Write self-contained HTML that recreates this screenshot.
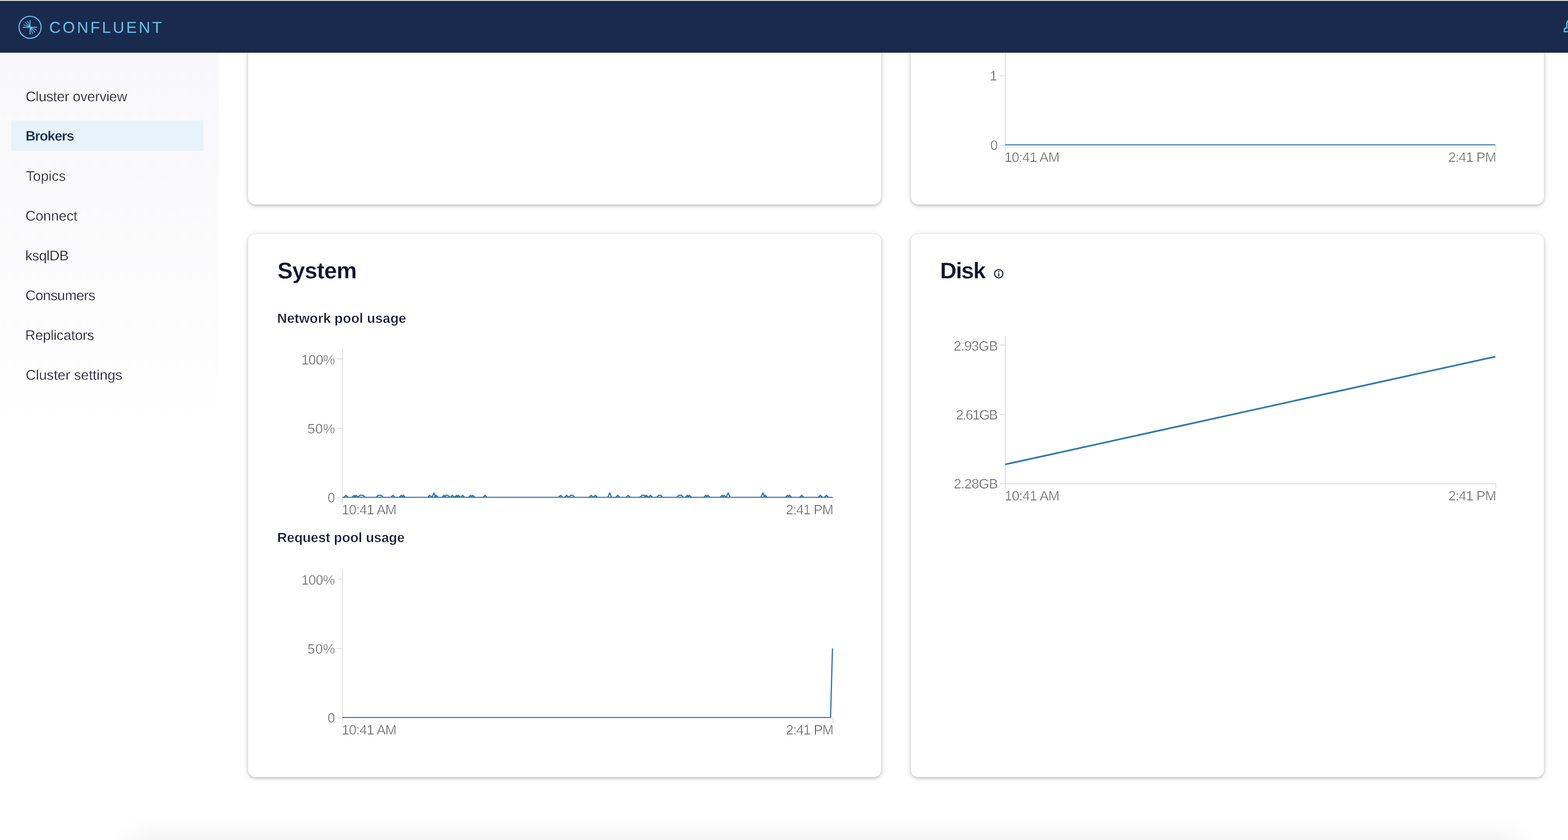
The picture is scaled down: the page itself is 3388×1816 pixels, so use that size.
<!DOCTYPE html>
<html lang="en">
<head>
<meta charset="utf-8">
<title>Brokers - Confluent Control Center</title>
<style>
html,body{margin:0;padding:0;overflow:hidden;}
body{width:3388px;height:1816px;overflow:hidden;background:#fff;position:relative;font-family:"Liberation Sans",sans-serif;text-rendering:geometricPrecision;}
#topline{position:absolute;left:0;top:0;width:3388px;height:2px;background:#dcdce0;z-index:30;}
header{position:absolute;left:0;top:2px;width:3388px;height:112px;background:#1a2a4e;z-index:20;overflow:hidden;}
header .brand{position:absolute;left:106.22px;top:41.00px;font-size:34.3px;line-height:1;letter-spacing:4.236px;color:#69c3e8;white-space:nowrap;}
header svg{position:absolute;left:0;top:0;}
#sidebar{position:absolute;left:0;top:113px;width:472px;height:1703px;background:linear-gradient(180deg,#f8f8fa 0px,#f9f9fb 200px,#fcfcfd 550px,#ffffff 820px);z-index:5;}
#sidebar ul{list-style:none;margin:0;padding:0;}
#sidebar li{position:absolute;left:24px;width:416px;height:65.8px;}
#sidebar li a{position:absolute;line-height:1;font-size:30.4px;color:#1d1e2c;white-space:nowrap;-webkit-text-stroke:0.4px #fafafb;}
#sidebar li.sel{background:#e7f3fa;}
#sidebar li.sel a{font-weight:bold;font-size:29.7px;color:#15274e;-webkit-text-stroke:0.3px #e7f3fa;}
.card{position:absolute;background:#fff;border-radius:16px;box-shadow:0 1px 16px rgba(0,0,0,0.10),0 2.7px 6px rgba(0,0,0,0.20);z-index:1;}
#c1{left:536px;top:-40px;width:1368px;height:482px;}
#c2{left:1968px;top:-40px;width:1368px;height:482px;}
#c3{left:536px;top:506px;width:1368px;height:1174px;}
#c4{left:1968px;top:506px;width:1368px;height:1174px;}
h2{position:absolute;margin:0;font-size:49.4px;line-height:1;font-weight:bold;color:#131631;white-space:nowrap;z-index:3;-webkit-text-stroke:0.3px #fff;}
h3{position:absolute;margin:0;font-size:29.2px;line-height:1;font-weight:bold;color:#131631;white-space:nowrap;z-index:3;-webkit-text-stroke:0.5px #fff;}
#charts{position:absolute;left:0;top:0;z-index:2;}
#charts text{font-family:"Liberation Sans",sans-serif;font-size:29.4px;fill:#5e5e5e;stroke:#fff;stroke-width:0.6px;text-rendering:geometricPrecision;}
#footshadow{position:absolute;left:305px;top:1836px;width:2955px;height:100px;box-shadow:0 0 70px 10px rgba(0,0,0,0.13);z-index:6;}
</style>
</head>
<body>
<div id="topline"></div>
<header>
<svg width="3388" height="112" viewBox="0 2 3388 112">
<g fill="none" stroke="#69c3e8" stroke-linecap="butt">
<circle cx="65" cy="59" r="23.9" stroke-width="2.3"/>
<path d="M49.6,59 H80.4 M65,43.7 V74.3" stroke-width="1.9"/>
<path d="M65,59 L59.1,44.8 M65,59 L54.1,48.1 M65,59 L50.8,53.1 M65,59 L70.9,73.2 M65,59 L75.9,69.9 M65,59 L79.2,64.9" stroke-width="1.4"/>
<path d="M3392,43.6 C3387.8,44 3385.4,47.2 3385.4,51.6 V59.5 Q3385.4,60.9 3384,60.9 H3383.4 Q3380.1,60.9 3380.1,64.4 V68.5 H3392" stroke-width="2.6"/>
</g>
</svg>
<span class="brand">CONFLUENT</span>
</header>
<nav id="sidebar">
<ul>
<li style="top:61.04px"><a style="left:31.52px;top:19.96px;letter-spacing:-0.370px">Cluster overview</a></li>
<li class="sel" style="top:147.00px"><a style="left:31.15px;top:20.00px;letter-spacing:-1.153px">Brokers</a></li>
<li style="top:232.96px"><a style="left:32.15px;top:20.04px;letter-spacing:-0.020px">Topics</a></li>
<li style="top:318.92px"><a style="left:31.05px;top:20.08px;letter-spacing:-0.177px">Connect</a></li>
<li style="top:404.88px"><a style="left:30.79px;top:20.12px;letter-spacing:-0.509px">ksqlDB</a></li>
<li style="top:490.84px"><a style="left:31.07px;top:20.16px;letter-spacing:-0.545px">Consumers</a></li>
<li style="top:576.80px"><a style="left:30.53px;top:20.20px;letter-spacing:-0.301px">Replicators</a></li>
<li style="top:662.76px"><a style="left:31.60px;top:20.24px;letter-spacing:-0.043px">Cluster settings</a></li>
</ul>
</nav>
<main>
<section class="card" id="c1"></section>
<section class="card" id="c2"></section>
<section class="card" id="c3"></section>
<section class="card" id="c4"></section>
<h2 style="left:599.43px;top:561.00px;letter-spacing:-0.816px">System</h2>
<h3 style="left:599.09px;top:675.00px;letter-spacing:0.065px">Network pool usage</h3>
<h3 style="left:599.09px;top:1149.00px;letter-spacing:-0.128px">Request pool usage</h3>
<h2 style="left:2031.33px;top:561.00px;letter-spacing:-1.839px">Disk</h2>
<svg id="charts" width="3388" height="1816" viewBox="0 0 3388 1816">
<defs><clipPath id="clip-top"><rect x="2160" y="0" width="1080" height="314"/></clipPath><clipPath id="clip-network"><rect x="730" y="740" width="1080" height="336"/></clipPath><clipPath id="clip-request"><rect x="730" y="1220" width="1080" height="332"/></clipPath></defs>
<g id="info" fill="none" stroke="#131631"><circle cx="2158" cy="591.8" r="9" stroke-width="2.3"/><path d="M2158,590.6 V597.6" stroke-width="2.3"/><circle cx="2158" cy="587.4" r="1.4" fill="#131631" stroke="none"/></g>
<g id="chart-top"><path d="M2172,60 V325.8" stroke="#dfdfe6" stroke-width="2" fill="none"/><path d="M2160,163.95 H2172" stroke="#dfdfe6" stroke-width="2" fill="none"/><path d="M2160,314.0 H2172" stroke="#dfdfe6" stroke-width="2" fill="none"/><path d="M2172,314.0 H3232 V325.8" stroke="#dfdfe6" stroke-width="2" fill="none"/><path clip-path="url(#clip-top)" d="M2172,313.25 H3231" stroke="#2c79ad" stroke-width="2.67" fill="none"/><text x="2154.06" y="173.90" text-anchor="end" letter-spacing="-0.600">1</text><text x="2155.40" y="324.00" text-anchor="end" letter-spacing="-0.600">0</text><text x="2170.36" y="349.90" letter-spacing="-0.722">10:41 AM</text><text x="3232.36" y="349.90" text-anchor="end" letter-spacing="-0.925">2:41 PM</text></g>
<g id="chart-network"><path d="M740,756 V1087.8" stroke="#dfdfe6" stroke-width="2" fill="none"/><path d="M728,775.8 H740" stroke="#dfdfe6" stroke-width="2" fill="none"/><path d="M728,925.9 H740" stroke="#dfdfe6" stroke-width="2" fill="none"/><path d="M728,1076.0 H740" stroke="#dfdfe6" stroke-width="2" fill="none"/><path d="M740,1076.0 H1800 V1087.8" stroke="#dfdfe6" stroke-width="2" fill="none"/><path clip-path="url(#clip-network)" d="M740,1075.25 H1799 M743.1,1075.25 L747.5,1070.8 L751.9,1075.25 M760.6,1075.25 L765.0,1070.8 L769.4,1075.25 M765.1,1075.25 L769.5,1070.8 L773.9,1075.25 M773.1,1075.25 L777.5,1070.8 L784.5,1070.8 L788.9,1075.25 M812.9,1075.25 L817.3,1070.8 L823.6,1070.8 L828.0,1075.25 M844.6,1075.25 L849.0,1070.8 L853.4,1075.25 M862.6,1075.25 L867.0,1070.8 L871.4,1075.25 M867.0,1075.25 L871.4,1070.8 L875.8,1075.25 M924.2,1075.25 L928.6,1070.8 L933.0,1075.25 M933.1,1075.25 L937.5,1066.1 L941.9,1075.25 M937.9,1075.25 L942.3,1070.8 L946.7,1075.25 M955.0,1075.25 L959.4,1070.8 L963.8,1075.25 M959.0,1075.25 L963.4,1070.8 L967.8,1070.8 L972.2,1075.25 M973.0,1075.25 L977.4,1070.8 L981.8,1075.25 M982.0,1075.25 L986.4,1070.8 L990.8,1075.25 M986.0,1075.25 L990.4,1070.8 L994.8,1075.25 M995.0,1075.25 L999.4,1070.8 L1003.8,1075.25 M1012.6,1075.25 L1017.0,1070.8 L1021.4,1075.25 M1017.1,1075.25 L1021.5,1070.8 L1025.9,1075.25 M1043.6,1075.25 L1048.0,1070.8 L1052.4,1075.25 M1206.9,1075.25 L1211.3,1070.8 L1215.7,1075.25 M1220.0,1075.25 L1224.4,1070.8 L1228.8,1075.25 M1228.8,1075.25 L1233.2,1070.8 L1237.4,1070.8 L1241.8,1075.25 M1272.9,1075.25 L1277.3,1070.8 L1281.7,1075.25 M1281.9,1075.25 L1286.3,1070.8 L1290.7,1075.25 M1313.0,1075.25 L1317.4,1066.1 L1321.8,1075.25 M1330.4,1075.25 L1334.8,1070.8 L1339.2,1075.25 M1352.8,1075.25 L1357.2,1070.8 L1361.6,1075.25 M1382.6,1075.25 L1387.0,1070.8 L1392.5,1070.8 L1396.9,1075.25 M1392.3,1075.25 L1396.7,1070.8 L1401.1,1075.25 M1401.1,1075.25 L1405.5,1070.8 L1409.9,1075.25 M1418.9,1075.25 L1423.3,1070.8 L1427.5,1070.8 L1431.9,1075.25 M1462.4,1075.25 L1466.8,1070.8 L1472.4,1070.8 L1476.8,1075.25 M1480.8,1075.25 L1485.2,1070.8 L1489.6,1075.25 M1485.4,1075.25 L1489.8,1070.8 L1494.2,1075.25 M1520.8,1075.25 L1525.2,1070.8 L1529.6,1075.25 M1525.3,1075.25 L1529.7,1070.8 L1534.1,1075.25 M1556.0,1075.25 L1560.4,1070.8 L1564.8,1075.25 M1560.5,1075.25 L1564.9,1070.8 L1569.3,1075.25 M1569.0,1075.25 L1573.4,1066.1 L1577.8,1075.25 M1644.0,1075.25 L1648.4,1066.1 L1652.8,1075.25 M1648.9,1075.25 L1653.3,1070.8 L1657.7,1075.25 M1697.1,1075.25 L1701.5,1070.8 L1705.9,1075.25 M1701.6,1075.25 L1706.0,1070.8 L1710.4,1075.25 M1727.9,1075.25 L1732.3,1070.8 L1736.7,1075.25 M1768.0,1075.25 L1772.4,1070.8 L1776.8,1075.25 M1781.0,1075.25 L1785.4,1070.8 L1789.8,1075.25" stroke="#2c79ad" stroke-width="2.67" fill="none" stroke-linejoin="miter"/><text x="723.45" y="787.80" text-anchor="end" letter-spacing="-0.669">100%</text><text x="724.66" y="936.90" text-anchor="end" letter-spacing="0.490">50%</text><text x="723.50" y="1086.30" text-anchor="end" letter-spacing="-0.600">0</text><text x="738.36" y="1111.90" letter-spacing="-0.801">10:41 AM</text><text x="1799.94" y="1111.90" text-anchor="end" letter-spacing="-1.126">2:41 PM</text></g>
<g id="chart-request"><path d="M740,1232.3 V1563.8" stroke="#dfdfe6" stroke-width="2" fill="none"/><path d="M728,1251.9 H740" stroke="#dfdfe6" stroke-width="2" fill="none"/><path d="M728,1401.95 H740" stroke="#dfdfe6" stroke-width="2" fill="none"/><path d="M728,1552.0 H740" stroke="#dfdfe6" stroke-width="2" fill="none"/><path d="M740,1552.0 H1800 V1563.8" stroke="#dfdfe6" stroke-width="2" fill="none"/><path clip-path="url(#clip-request)" d="M740,1551.25 H1794.55 L1798.75,1401.7" stroke="#2c79ad" stroke-width="2.67" fill="none" stroke-linejoin="miter"/><text x="723.29" y="1264.10" text-anchor="end" letter-spacing="-0.703">100%</text><text x="724.66" y="1413.10" text-anchor="end" letter-spacing="0.490">50%</text><text x="723.50" y="1562.20" text-anchor="end" letter-spacing="-0.600">0</text><text x="738.36" y="1588.00" letter-spacing="-0.801">10:41 AM</text><text x="1800.15" y="1588.00" text-anchor="end" letter-spacing="-1.074">2:41 PM</text></g>
<g id="chart-disk"><path d="M2172,726.1 V1057.8" stroke="#dfdfe6" stroke-width="2" fill="none"/><path d="M2160,746.0 H2172" stroke="#dfdfe6" stroke-width="2" fill="none"/><path d="M2160,896.0 H2172" stroke="#dfdfe6" stroke-width="2" fill="none"/><path d="M2160,1046.0 H2172" stroke="#dfdfe6" stroke-width="2" fill="none"/><path d="M2172,1046.0 H3232 V1057.8" stroke="#dfdfe6" stroke-width="2" fill="none"/><path d="M2172,1004.1 L3231,771" stroke="#2c79ad" stroke-width="3.55" fill="none"/><text x="2155.54" y="757.75" text-anchor="end" letter-spacing="-0.752">2.93GB</text><text x="2154.70" y="906.80" text-anchor="end" letter-spacing="-1.762">2.61GB</text><text x="2155.54" y="1055.80" text-anchor="end" letter-spacing="-0.833">2.28GB</text><text x="2170.72" y="1082.20" letter-spacing="-0.774">10:41 AM</text><text x="3232.36" y="1082.20" text-anchor="end" letter-spacing="-0.925">2:41 PM</text></g>
</svg>
</main>
<div id="footshadow"></div>
</body>
</html>
